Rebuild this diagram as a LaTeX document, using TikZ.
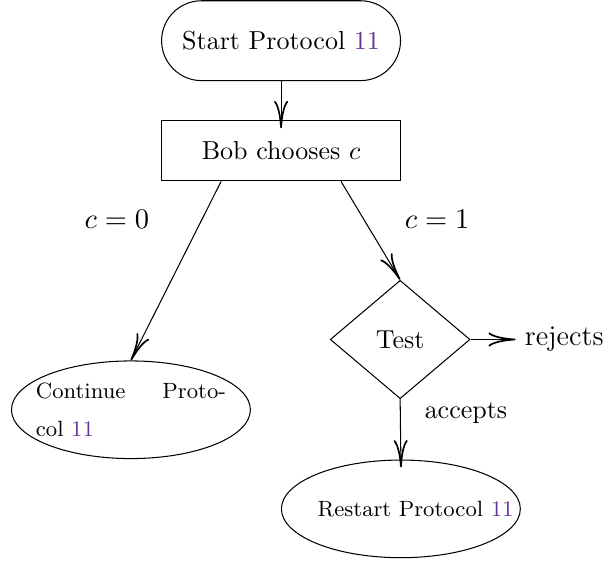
\documentclass[tikz,border=0pt]{standalone}
\usepackage{tikz}
\usepackage{amsmath}
\usepackage{color}
\usetikzlibrary{shapes.geometric,arrows.meta,positioning}

\definecolor{refpurple}{RGB}{102,51,153}
\newcommand{\protno}[1]{\textcolor{refpurple}{#1}}

\tikzset{
    flow/.style={-{Computer Modern Rightarrow[length=10.5pt,width=5.4pt,line width=0.65pt]}},
    startbox/.style={draw, rectangle, rounded corners=0.54cm, minimum width=3.23cm, minimum height=1.08cm},
    choicebox/.style={draw, rectangle, minimum width=3.23cm, minimum height=0.81cm},
    testbox/.style={draw, diamond, inner sep=0pt, minimum width=1.89cm, minimum height=1.60cm},
    endbox/.style={draw, ellipse, inner xsep=-0.3cm, inner ysep=0pt, minimum width=3.23cm, minimum height=1.32cm,
        text width=2.57cm, align=justify, font=\fontsize{8.5}{14.6}\selectfont},
    biglabel/.style={font=\fontsize{11}{13}\selectfont}
}

\begin{document}
\begin{tikzpicture}
        \useasboundingbox (0,0.01) rectangle (8.18,-7.63);

        \node[startbox] (start) at (3.80,-0.54) {Start Protocol \protno{11}};
        \node[choicebox] (choose) at (3.80,-2.03) {Bob chooses $c$};
        \node[testbox] (test) at (5.41,-4.58) {Test};
        \node[endbox] (cont) at (1.77,-5.53) {Continue Proto-\linebreak col \protno{11}};
        \node[endbox, text width=2.25cm] (restart) at (5.42,-6.87) {\mbox{Restart Protocol \protno{11}}};

        \node[biglabel] (czero) at (1.58,-2.95) {$c=0$};
        \node[biglabel] (cone) at (5.91,-2.95) {$c=1$};
        \node[biglabel, right=0.61cm of test] (rejects) {rejects};
        \node (accepts) at (6.30,-5.57) {accepts};

        \draw[flow, shorten >=-3pt] (start) -- (choose);
        \draw[flow] ([xshift=-0.81cm]choose.south) -- (cont.north);
        \draw[flow] ([xshift=0.81cm]choose.south) -- (test.north);
        \draw[flow] (test) -- (rejects);
        \draw[flow, shorten >=-3pt] (test.south) -- (restart.north);
    \end{tikzpicture}
\end{document}
